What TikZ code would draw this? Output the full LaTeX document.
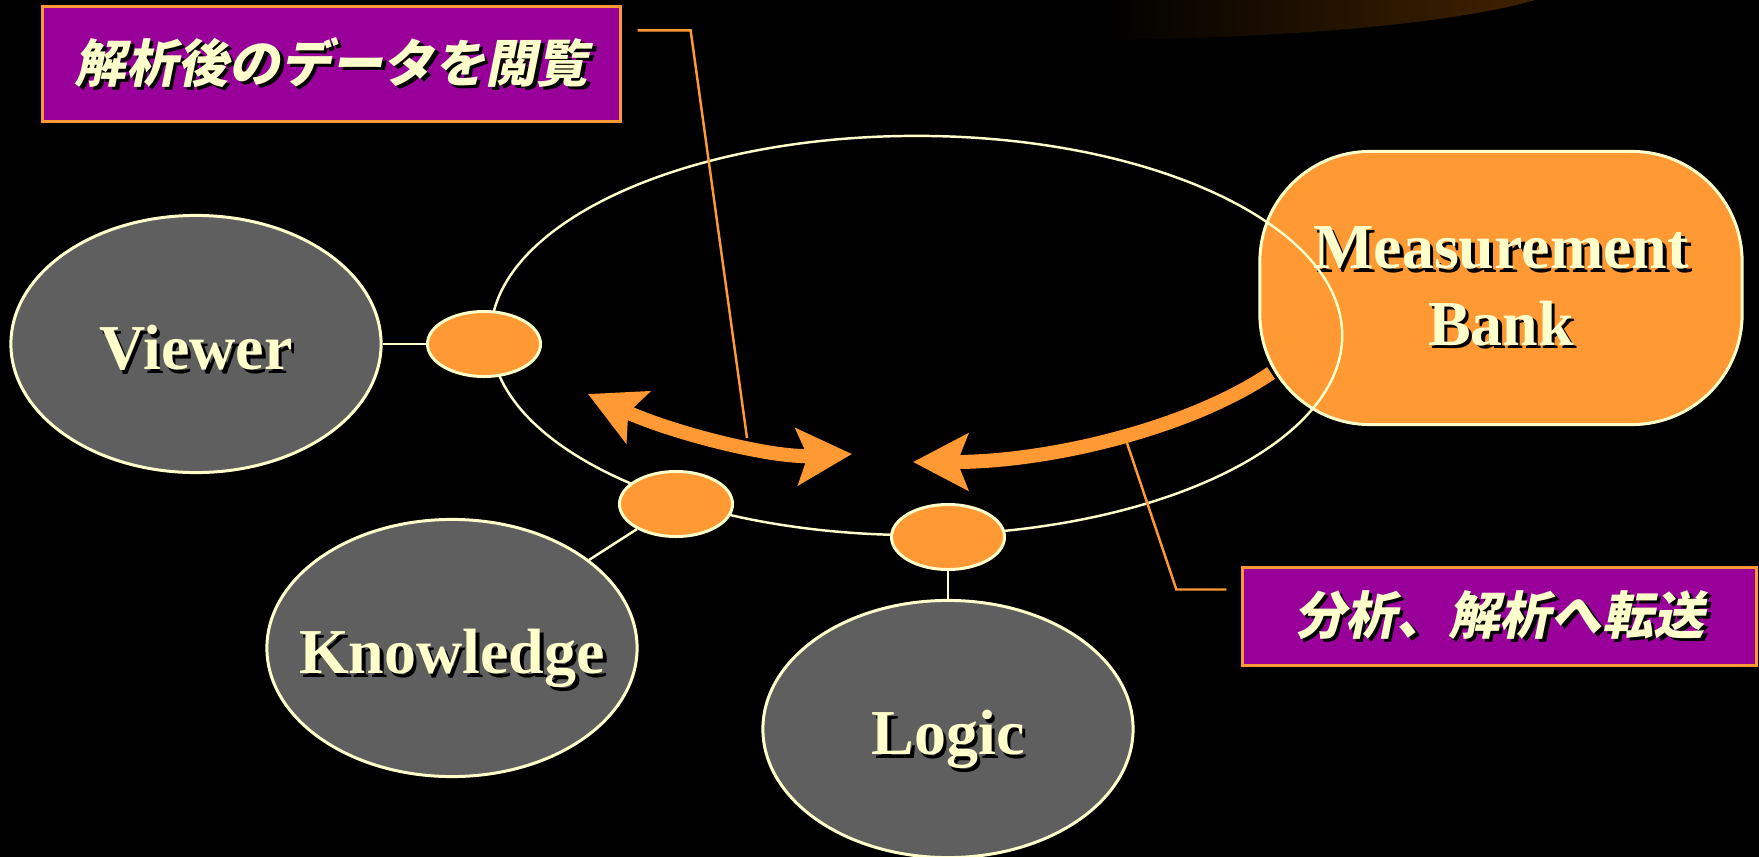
\documentclass[tikz,border=0pt]{standalone}
\usepackage{fontspec}
\setmainfont{Liberation Serif}
\newfontfamily\cjk[FakeSlant=0.2]{Noto Sans CJK JP}
\usepackage{xcolor}
\usetikzlibrary{shapes,arrows.meta,backgrounds,positioning}

\definecolor{bankorange}{HTML}{FF9933}
\definecolor{cream}{HTML}{FFFFCC}
\definecolor{partgray}{HTML}{5F5F5F}
\definecolor{notepurple}{HTML}{990099}
\definecolor{glow}{RGB}{66,34,0}

\newcommand\namefont{\fontsize{18.2pt}{21.8pt}\selectfont\bfseries}
\newcommand\notefont{\fontsize{14.6pt}{17pt}\selectfont\cjk\bfseries}
% text with a dark drop shadow
\newcommand\shtext[1]{\leavevmode\rlap{\kern1pt\raisebox{-1pt}{\color{black}#1}}#1}
\newcommand\nm[1]{\makebox[0pt]{\shtext{#1}}}

\tikzset{
  bigtip/.tip={Stealth[length=15.6pt,width=16pt,inset=3pt]},
  part/.style={ellipse,draw=cream,line width=0.85pt,fill=partgray,inner sep=0pt,
    minimum width=3.7cm,minimum height=2.57cm,text=cream,font=\namefont,
    text height=14.6pt,text depth=0pt},
  port/.style={ellipse,draw=cream,line width=0.85pt,fill=bankorange,inner sep=0pt,
    minimum width=1.13cm,minimum height=0.65cm},
  link/.style={draw=cream,line width=0.7pt},
  note/.style={rectangle,draw=bankorange,line width=0.85pt,fill=notepurple,inner sep=0pt,
    text=cream,font=\notefont},
  leader/.style={draw=bankorange,line width=0.7pt},
  flow/.style={draw=bankorange,line width=4pt},
}

\begin{document}
\begin{tikzpicture}[x=0.01cm,y=-0.01cm]
            \useasboundingbox (0,0) rectangle (1759,857);
            \begin{scope}[on background layer]
                \fill[black] (0,0) rectangle (1759,857);
                \shade[left color=black,right color=glow]
                    (1100,0) -- (1100,40) .. controls (1300,38) and (1460,22) .. (1535,0) -- cycle;
            \end{scope}

            \node[part] (viewer) at (196,344) {\nm{Viewer}};
            \node[part] (know) at (452,648) {\nm{Knowledge}};
            \node[part] (logic) at (948,729) {\nm{Logic}};

            \node[rectangle,rounded corners=1.1cm,draw=cream,line width=0.85pt,fill=bankorange,
                minimum width=4.82cm,minimum height=2.73cm,align=center,text=cream,font=\namefont]
                (bank) at (1501,288) {\shtext{Measurement}\\\shtext{Bank}};

            \node[ellipse,draw=cream,line width=0.7pt,minimum width=8.51cm,minimum height=3.99cm]
                (ring) at (916.5,335.5) {};

            \node[port] (pv) at (484,344) {};
            \node[port] (pk) at (676,504) {};
            \node[port] (pl) at (948,537) {};

            \begin{scope}[on background layer]
                \draw[link] (viewer) -- (pv);
                \draw[link] (know) -- (pk);
                \draw[link] (logic) -- (pl);
            \end{scope}

            \coordinate (ba) at (588,394);
            \coordinate (bb) at (852,454);
            \coordinate (sa) at (1271,373);
            \coordinate (sb) at (913,462);
            \draw[flow,bigtip-bigtip] (ba) .. controls (670,432) and (770,458) .. (bb);
            \draw[flow,-bigtip] (sa) .. controls (1190,428) and (1050,462) .. (sb);

            \node[note,minimum width=5.77cm,minimum height=1.14cm] (browse) at (331.5,64)
                {\shtext{解析後のデータを閲覧}};
            \node[note,minimum width=5.13cm,minimum height=0.97cm] (send) at (1499.5,616.5)
                {\shtext{分析、解析へ転送}};

            \coordinate (ptA) at (747,438);
            \coordinate (ptB) at (1127,443);
            \draw[leader] ([shift={(16,25)}]browse.north east) -- ++(53,0) -- (ptA);
            \draw[leader] ([shift={(-15,23)}]send.north west) -- ++(-50,0) -- (ptB);
\end{tikzpicture}
\end{document}
